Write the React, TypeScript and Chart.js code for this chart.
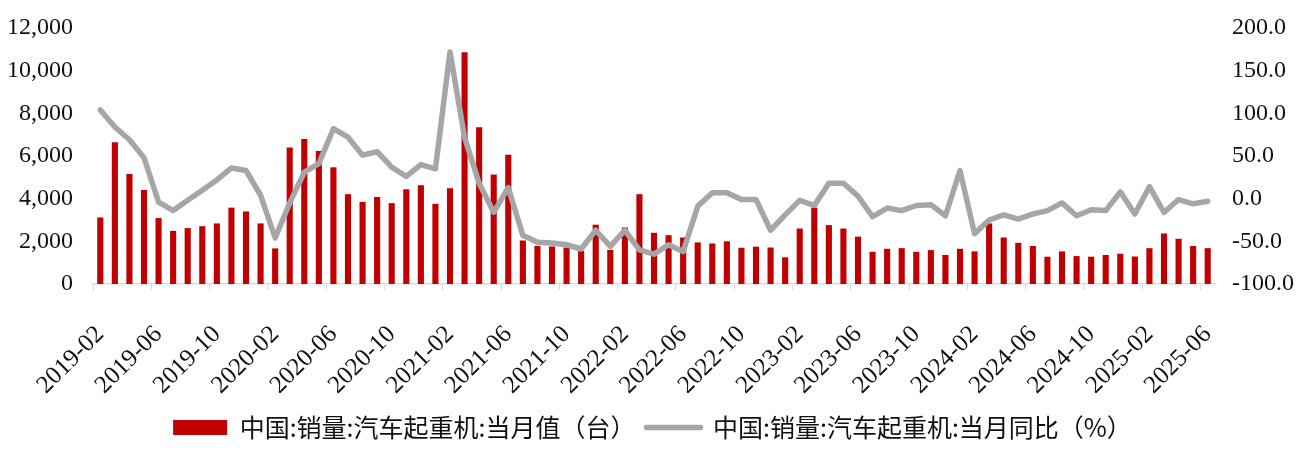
import React, { useEffect, useRef } from 'react';
import { Chart, registerables } from 'chart.js';

Chart.register(...registerables);

const months: string[] = [
  '2019-02', '2019-03', '2019-04', '2019-05', '2019-06', '2019-07', '2019-08', '2019-09', '2019-10', '2019-11', '2019-12',
  '2020-01', '2020-02', '2020-03', '2020-04', '2020-05', '2020-06', '2020-07', '2020-08', '2020-09', '2020-10', '2020-11', '2020-12',
  '2021-01', '2021-02', '2021-03', '2021-04', '2021-05', '2021-06', '2021-07', '2021-08', '2021-09', '2021-10', '2021-11', '2021-12',
  '2022-01', '2022-02', '2022-03', '2022-04', '2022-05', '2022-06', '2022-07', '2022-08', '2022-09', '2022-10', '2022-11', '2022-12',
  '2023-01', '2023-02', '2023-03', '2023-04', '2023-05', '2023-06', '2023-07', '2023-08', '2023-09', '2023-10', '2023-11', '2023-12',
  '2024-01', '2024-02', '2024-03', '2024-04', '2024-05', '2024-06', '2024-07', '2024-08', '2024-09', '2024-10', '2024-11', '2024-12',
  '2025-01', '2025-02', '2025-03', '2025-04', '2025-05', '2025-06',
];

// 当月值（台）
const salesUnits: number[] = [
  3120, 6650, 5160, 4410, 3090, 2490, 2620, 2710, 2840, 3580, 3400,
  2840, 1670, 6400, 6800, 6230, 5470, 4210, 3850, 4080, 3790, 4440, 4630,
  3760, 4490, 10860, 7350, 5130, 6060, 2040, 1790, 1760, 1710, 1560, 2780,
  1600, 2650, 4210, 2400, 2290, 2180, 1950, 1900, 2000, 1700, 1750, 1710,
  1250, 2600, 3580, 2760, 2600, 2220, 1510, 1650, 1680, 1510, 1590, 1360,
  1650, 1530, 2840, 2180, 1930, 1780, 1280, 1530, 1310, 1280, 1360, 1420,
  1290, 1680, 2370, 2120, 1780, 1680,
];

// 当月同比（%）
const yoyPct: number[] = [
  104, 84, 69, 48, -4, -14, -2, 10, 22, 36, 33,
  4, -46, -5, 31, 41, 82, 72, 51, 55, 37, 26, 40,
  35, 172, 72, 18, -16, 13, -43, -51, -52, -54, -59, -37,
  -56, -37, -60, -65, -54, -62, -9, 7, 7, -1, -1, -37,
  -19, -2, -8, 18, 18, 3, -21, -11, -14, -8, -7, -20,
  33, -41, -25, -19, -24, -18, -14, -5, -20, -13, -14, 8,
  -18, 14, -16, -1, -6, -3,
];

const barLabel = '中国:销量:汽车起重机:当月值（台）';
const lineLabel = '中国:销量:汽车起重机:当月同比（%）';

const RED = '#C00000';
const GREY = '#A6A6A6';
const AXIS = '#D9D9D9';
const serif = 'Liberation Serif';

export default function App() {
  const ref = useRef<HTMLCanvasElement>(null);

  useEffect(() => {
    if (!ref.current) return;
    const chart = new Chart(ref.current, {
      type: 'bar',
      data: {
        labels: months,
        datasets: [
          {
            type: 'bar',
            label: barLabel,
            data: salesUnits,
            backgroundColor: RED,
            borderWidth: 0,
            barPercentage: 0.42,
            categoryPercentage: 1,
            yAxisID: 'y',
            order: 2,
          },
          {
            type: 'line',
            label: lineLabel,
            data: yoyPct,
            borderColor: GREY,
            backgroundColor: GREY,
            borderWidth: 5.5,
            pointRadius: 0,
            tension: 0,
            borderJoinStyle: 'round',
            borderCapStyle: 'round',
            yAxisID: 'y1',
            order: 1,
          } as any,
        ],
      },
      options: {
        animation: false,
        responsive: true,
        maintainAspectRatio: false,
        layout: { padding: { top: 20, left: 0, right: 0, bottom: 0 } },
        plugins: {
          tooltip: { enabled: false },
          legend: {
            position: 'bottom',
            align: 'center',
            labels: {
              usePointStyle: true,
              pointStyleWidth: 54,
              boxHeight: 15,
              padding: 11,
              color: '#111',
              font: { family: 'Noto Sans CJK SC', size: 25 },
              generateLabels: () => [
                {
                  text: barLabel,
                  fillStyle: RED,
                  strokeStyle: RED,
                  lineWidth: 0,
                  pointStyle: 'rect',
                  datasetIndex: 0,
                  hidden: false,
                  fontColor: '#111',
                } as any,
                {
                  text: lineLabel,
                  fillStyle: GREY,
                  strokeStyle: GREY,
                  lineWidth: 5.5,
                  lineCap: 'round',
                  pointStyle: 'line',
                  datasetIndex: 1,
                  hidden: false,
                  fontColor: '#111',
                } as any,
              ],
            },
          },
        },
        scales: {
          x: {
            type: 'category',
            offset: true,
            afterFit: (scale: any) => {
              scale.height = 120;
              scale.paddingLeft = 0;
              scale.paddingRight = 0;
            },
            grid: {
              offset: true,
              drawOnChartArea: false,
              drawTicks: true,
              tickLength: 6,
              lineWidth: 1,
              color: (ctx: any) =>
                ctx.index !== undefined && ctx.index % 4 === 0 ? AXIS : 'rgba(0,0,0,0)',
            },
            border: { display: true, color: AXIS, width: 1.5 },
            ticks: {
              autoSkip: false,
              minRotation: 45,
              maxRotation: 45,
              padding: 30,
              color: '#111',
              font: { family: serif, size: 25 },
              callback: (_v: any, i: number) => (i % 4 === 0 ? months[i] : ''),
            },
          },
          y: {
            type: 'linear',
            position: 'left',
            min: 0,
            max: 12000,
            afterFit: (scale: any) => {
              scale.width = 85;
              scale.paddingTop = 0;
              scale.paddingBottom = 0;
            },
            grid: { display: false, drawTicks: false },
            border: { display: false },
            ticks: {
              stepSize: 2000,
              padding: 20,
              color: '#111',
              font: { family: serif, size: 24 },
              callback: (v: any) => Number(v).toLocaleString('en-US'),
            },
          },
          y1: {
            type: 'linear',
            position: 'right',
            min: -100,
            max: 200,
            afterFit: (scale: any) => {
              scale.width = 82;
              scale.paddingTop = 0;
              scale.paddingBottom = 0;
            },
            grid: { display: false, drawTicks: false },
            border: { display: false },
            ticks: {
              stepSize: 50,
              padding: 17,
              color: '#111',
              font: { family: serif, size: 24 },
              callback: (v: any) => Number(v).toFixed(1),
            },
          },
        },
      },
    });
    return () => chart.destroy();
  }, []);

  return (
    <div style={{ position: 'relative', width: '1289px', height: '442px' }}>
      <canvas ref={ref} />
    </div>
  );
}
